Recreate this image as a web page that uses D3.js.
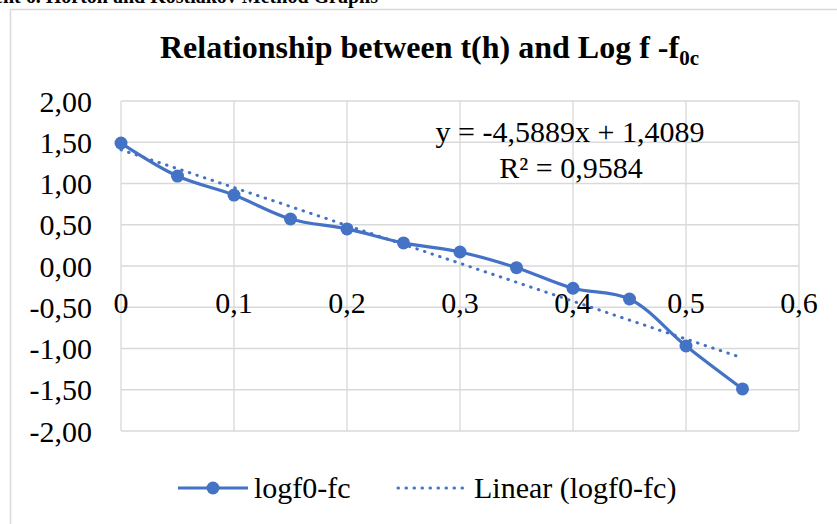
<!DOCTYPE html>
<html>
<head>
<meta charset="utf-8">
<script src="https://cdn.jsdelivr.net/npm/d3@7"></script>
<style>
  body { margin: 0; background: #fff; }
  text { font-family: "Liberation Serif", "Times New Roman", serif; fill: #000; }
</style>
</head>
<body>
<div id="chart"></div>
<script>
// data
const hours = [0, 0.05, 0.1, 0.15, 0.2, 0.25, 0.3, 0.35, 0.4, 0.45, 0.5, 0.55];
const logValues = [1.49, 1.09, 0.86, 0.57, 0.45, 0.28, 0.17, -0.02, -0.27, -0.40, -0.97, -1.49];
const trendSlope = -4.5889;
const trendIntercept = 1.4089;
const rSquared = "0,9584";
const xTicks = [0, 0.1, 0.2, 0.3, 0.4, 0.5, 0.6];
const yTicks = [-2, -1.5, -1, -0.5, 0, 0.5, 1, 1.5, 2];

const W = 837, H = 524;
const blue = "#4472C4";
const grid = "#D9D9D9";

const svg = d3.select("#chart").append("svg")
    .attr("width", W)
    .attr("height", H);

// cut-off heading above the chart
svg.append("text")
    .attr("x", 378).attr("y", 3)
    .attr("text-anchor", "end")
    .style("font-size", "20px")
    .style("font-weight", "bold")
    .text("Attachment 6. Horton and Kostiakov Method Graphs");

// chart frame
svg.append("rect")
    .attr("x", 10.5).attr("y", 9.5)
    .attr("width", 900).attr("height", 600)
    .attr("fill", "none")
    .attr("stroke", grid)
    .attr("stroke-width", 1.5);

// title
const title = svg.append("text")
    .attr("x", 160).attr("y", 58)
    .style("font-size", "32px")
    .style("font-weight", "bold");
title.append("tspan").text("Relationship between t(h) and Log f -f");
title.append("tspan").attr("dy", 7).style("font-size", "21px").text("0c");

const x = d3.scaleLinear().domain([0, 0.6]).range([121, 799]);
const y = d3.scaleLinear().domain([-2, 2]).range([431, 101]);
const fmt = (v, n) => d3.format("." + n + "f")(v).replace(".", ",").replace("−", "-");

// gridlines
svg.append("g")
    .selectAll("line")
    .data(yTicks)
    .join("line")
    .attr("x1", x(0)).attr("x2", x(0.6))
    .attr("y1", d => y(d)).attr("y2", d => y(d))
    .attr("stroke", grid).attr("stroke-width", 1.3);

svg.append("g")
    .selectAll("line")
    .data(xTicks)
    .join("line")
    .attr("x1", d => x(d)).attr("x2", d => x(d))
    .attr("y1", y(2)).attr("y2", y(-2))
    .attr("stroke", grid).attr("stroke-width", 1.3);

// y labels
svg.append("g")
    .selectAll("text")
    .data(yTicks)
    .join("text")
    .attr("x", 92)
    .attr("y", d => y(d))
    .attr("dy", "0.35em")
    .attr("text-anchor", "end")
    .style("font-size", "30px")
    .text(d => fmt(d, 2));

// x labels, sitting under the zero line
svg.append("g")
    .selectAll("text")
    .data(xTicks)
    .join("text")
    .attr("x", d => x(d))
    .attr("y", y(0) + 47)
    .attr("text-anchor", "middle")
    .style("font-size", "30px")
    .text(d => d === 0 ? "0" : fmt(d, 1));

// linear trendline
const tx = [hours[0], hours[hours.length - 1]];
svg.append("line")
    .attr("x1", x(tx[0])).attr("y1", y(trendSlope * tx[0] + trendIntercept))
    .attr("x2", x(tx[1])).attr("y2", y(trendSlope * tx[1] + trendIntercept))
    .attr("stroke", blue)
    .attr("stroke-width", 3)
    .attr("stroke-linecap", "round")
    .attr("stroke-dasharray", "0.5 7.5");

// series line
const pts = hours.map((h, i) => [h, logValues[i]]);
const line = d3.line()
    .x(d => x(d[0]))
    .y(d => y(d[1]))
    .curve(d3.curveCatmullRom.alpha(0.5));

svg.append("path")
    .datum(pts)
    .attr("d", line)
    .attr("fill", "none")
    .attr("stroke", blue)
    .attr("stroke-width", 3.2)
    .attr("stroke-linejoin", "round");

svg.append("g")
    .selectAll("circle")
    .data(pts)
    .join("circle")
    .attr("cx", d => x(d[0]))
    .attr("cy", d => y(d[1]))
    .attr("r", 6.5)
    .attr("fill", blue);

// equation label
svg.append("text")
    .attr("x", 570).attr("y", 142)
    .attr("text-anchor", "middle")
    .style("font-size", "30px")
    .text("y = " + fmt(trendSlope, 4) + "x + " + fmt(trendIntercept, 4));
svg.append("text")
    .attr("x", 571).attr("y", 178)
    .attr("text-anchor", "middle")
    .style("font-size", "30px")
    .text("R² = " + rSquared);

// legend
const ly = 488;
svg.append("line")
    .attr("x1", 178).attr("x2", 248)
    .attr("y1", ly).attr("y2", ly)
    .attr("stroke", blue).attr("stroke-width", 3.2);
svg.append("circle")
    .attr("cx", 213).attr("cy", ly).attr("r", 6.5)
    .attr("fill", blue);
svg.append("text")
    .attr("x", 254).attr("y", ly + 10)
    .style("font-size", "30px")
    .text("logf0-fc");

svg.append("line")
    .attr("x1", 398).attr("x2", 467)
    .attr("y1", ly).attr("y2", ly)
    .attr("stroke", blue).attr("stroke-width", 3)
    .attr("stroke-linecap", "round")
    .attr("stroke-dasharray", "0.5 7.5");
svg.append("text")
    .attr("x", 474).attr("y", ly + 10)
    .style("font-size", "30px")
    .text("Linear (logf0-fc)");
</script>
</body>
</html>
